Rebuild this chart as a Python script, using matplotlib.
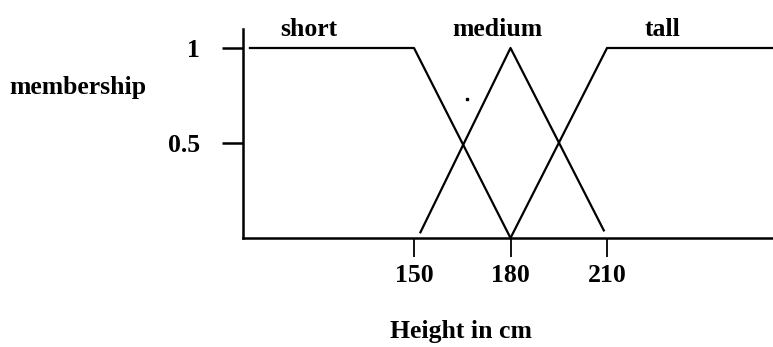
import matplotlib
matplotlib.use("Agg")
import matplotlib.pyplot as plt

# Data (heights in cm, membership values)
short_x = [99, 150, 180]
short_y = [1, 1, 0]
medium_x = [152, 180, 209]
medium_y = [0.03, 1, 0.04]
tall_x = [180, 210, 261.6]
tall_y = [0, 1, 1]
set_names = ["short", "medium", "tall"]
set_label_x = [117.4, 175.8, 227.4]
x_ticks = [150, 180, 210]
x_tick_labels = ["150", "180", "210"]
y_ticks = [0.5, 1]
y_tick_labels = ["0.5", "1"]

plt.rcParams['font.family'] = ['Liberation Serif', 'DejaVu Serif']
plt.rcParams['font.weight'] = 'bold'

W, H = 773, 347
fig = plt.figure(figsize=(W / 100, H / 100), dpi=100)
ax = fig.add_axes([243 / W, (H - 238) / H, 530 / W, 209 / H])
ax.set_xlim(96.84, 261.6)
ax.set_ylim(0, 1.1)

for s in ["top", "right"]:
    ax.spines[s].set_visible(False)
for s in ["left", "bottom"]:
    ax.spines[s].set_linewidth(1.8)
    ax.spines[s].set_color("black")

lw = 1.6
ax.plot(short_x, short_y, color="black", lw=lw, clip_on=False)
ax.plot(medium_x, medium_y, color="black", lw=lw, clip_on=False)
ax.plot(tall_x, tall_y, color="black", lw=lw, clip_on=False)
ax.plot([166.4], [0.73], marker="s", ms=1.8, color="black", lw=0)

fs = 18.5
ax.set_xticks(x_ticks)
ax.set_xticklabels(x_tick_labels, fontsize=fs, fontweight="bold")
ax.set_yticks(y_ticks)
ax.set_yticklabels(y_tick_labels, fontsize=fs, fontweight="bold")
ax.tick_params(axis="x", direction="out", length=13.5, width=1.3, pad=5)
ax.tick_params(axis="y", direction="out", length=15, width=1.8, pad=16)

for name, x in zip(set_names, set_label_x):
    ax.text(x, 1.063, name, ha="center", va="baseline", fontsize=fs,
            fontweight="bold", clip_on=False)

ax.text(45.5, 0.79, "membership", ha="center", va="center", fontsize=fs,
        fontweight="bold", clip_on=False)
ax.text(164.6, -0.49, "Height in cm", ha="center", va="center", fontsize=fs,
        fontweight="bold", clip_on=False)

fig.savefig("out.png", dpi=100)
